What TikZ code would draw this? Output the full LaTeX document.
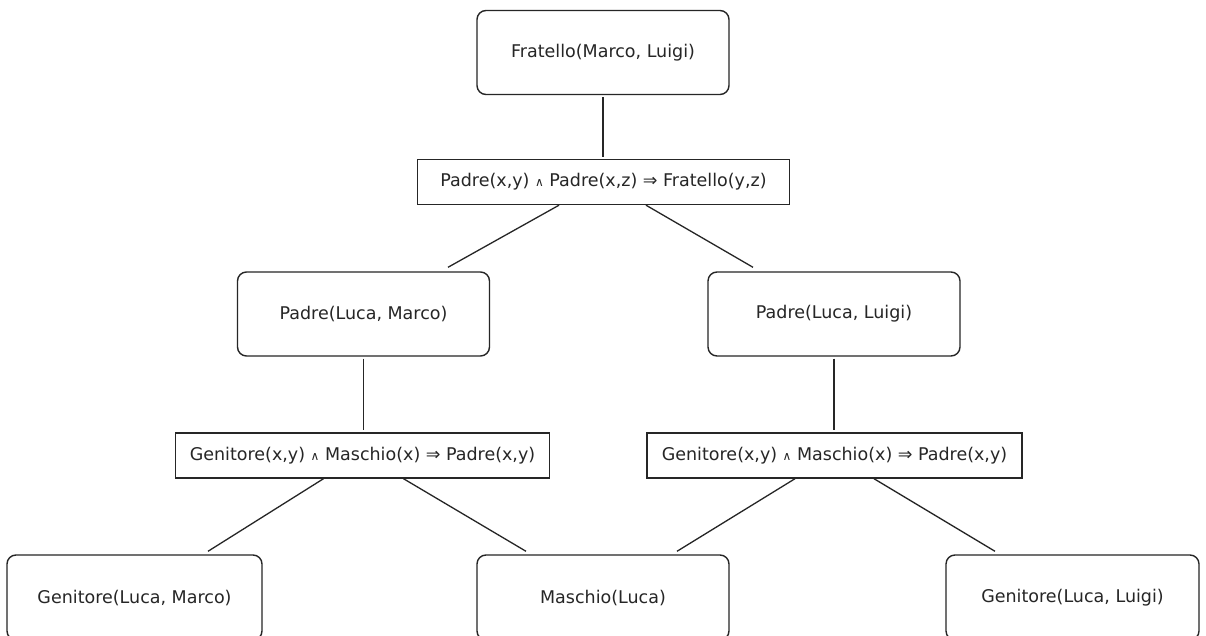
\documentclass[tikz,border=0pt]{standalone}
\usepackage{fontspec}
\setmainfont{DejaVu Sans}
\newcommand{\myand}{{\fontsize{12}{12}\selectfont ∧}}
\tikzset{
  fact/.style={draw=black!85, line width=1.4pt, rounded corners=9pt, fill=white,
    minimum width=252pt, minimum height=84pt, inner sep=0pt,
    font=\fontsize{17.5}{21}\selectfont, text=black!85},
  rulebox/.style={draw=black!85, line width=1.4pt, fill=white,
    minimum height=45pt, inner sep=0pt,
    font=\fontsize{17.5}{21}\selectfont, text=black!85},
  edge/.style={draw=black!85, line width=1.3pt}
}
\begin{document}
\begin{tikzpicture}[x=1pt,y=-1pt]
\useasboundingbox (0,0) rectangle (1206,636);
\clip (0,0) rectangle (1206,636);
\fill[white] (0,0) rectangle (1206,636);

\node[fact] (top) at (603,52.5) {Fratello(Marco, Luigi)};
\node[rulebox, minimum width=372pt] (r1) at (603.5,182) {Padre(x,y) \myand{} Padre(x,z) ⇒ Fratello(y,z)};
\node[fact] (plm) at (363.5,314) {Padre(Luca, Marco)};
\node[fact] (pll) at (834,314) {Padre(Luca, Luigi)};
\node[rulebox, minimum width=374pt] (r2l) at (362.5,455.5) {Genitore(x,y) \myand{} Maschio(x) ⇒ Padre(x,y)};
\node[rulebox, minimum width=375pt] (r2r) at (834.5,455.5) {Genitore(x,y) \myand{} Maschio(x) ⇒ Padre(x,y)};
\node[fact, minimum width=255pt, minimum height=85pt] (glm) at (134.5,597.5) {Genitore(Luca, Marco)};
\node[fact, minimum height=85pt] (mas) at (603,597.5) {Maschio(Luca)};
\node[fact, minimum width=253pt, minimum height=85pt] (gll) at (1072.5,597.5) {Genitore(Luca, Luigi)};

\draw[edge] ([yshift=-2pt]top.south) -- ([yshift=2pt]top.south |- r1.north);
\draw[edge] ([xshift=-44.5pt]r1.south) -- ([xshift=84.5pt,yshift=4pt]plm.north);
\draw[edge] ([xshift=42.5pt]r1.south) -- ([xshift=-81pt,yshift=4pt]pll.north);
\draw[edge] ([yshift=-2pt]plm.south) -- ([yshift=2pt]plm.south |- r2l.north);
\draw[edge] ([yshift=-2pt]pll.south) -- ([yshift=2pt]pll.south |- r2r.north);
\draw[edge] ([xshift=-39pt]r2l.south) -- ([xshift=73.5pt,yshift=3pt]glm.north);
\draw[edge] ([xshift=41pt]r2l.south) -- ([xshift=-77pt,yshift=3pt]mas.north);
\draw[edge] ([xshift=-39.5pt]r2r.south) -- ([xshift=74pt,yshift=3pt]mas.north);
\draw[edge] ([xshift=39.5pt]r2r.south) -- ([xshift=-77.5pt,yshift=3pt]gll.north);
\end{tikzpicture}
\end{document}
